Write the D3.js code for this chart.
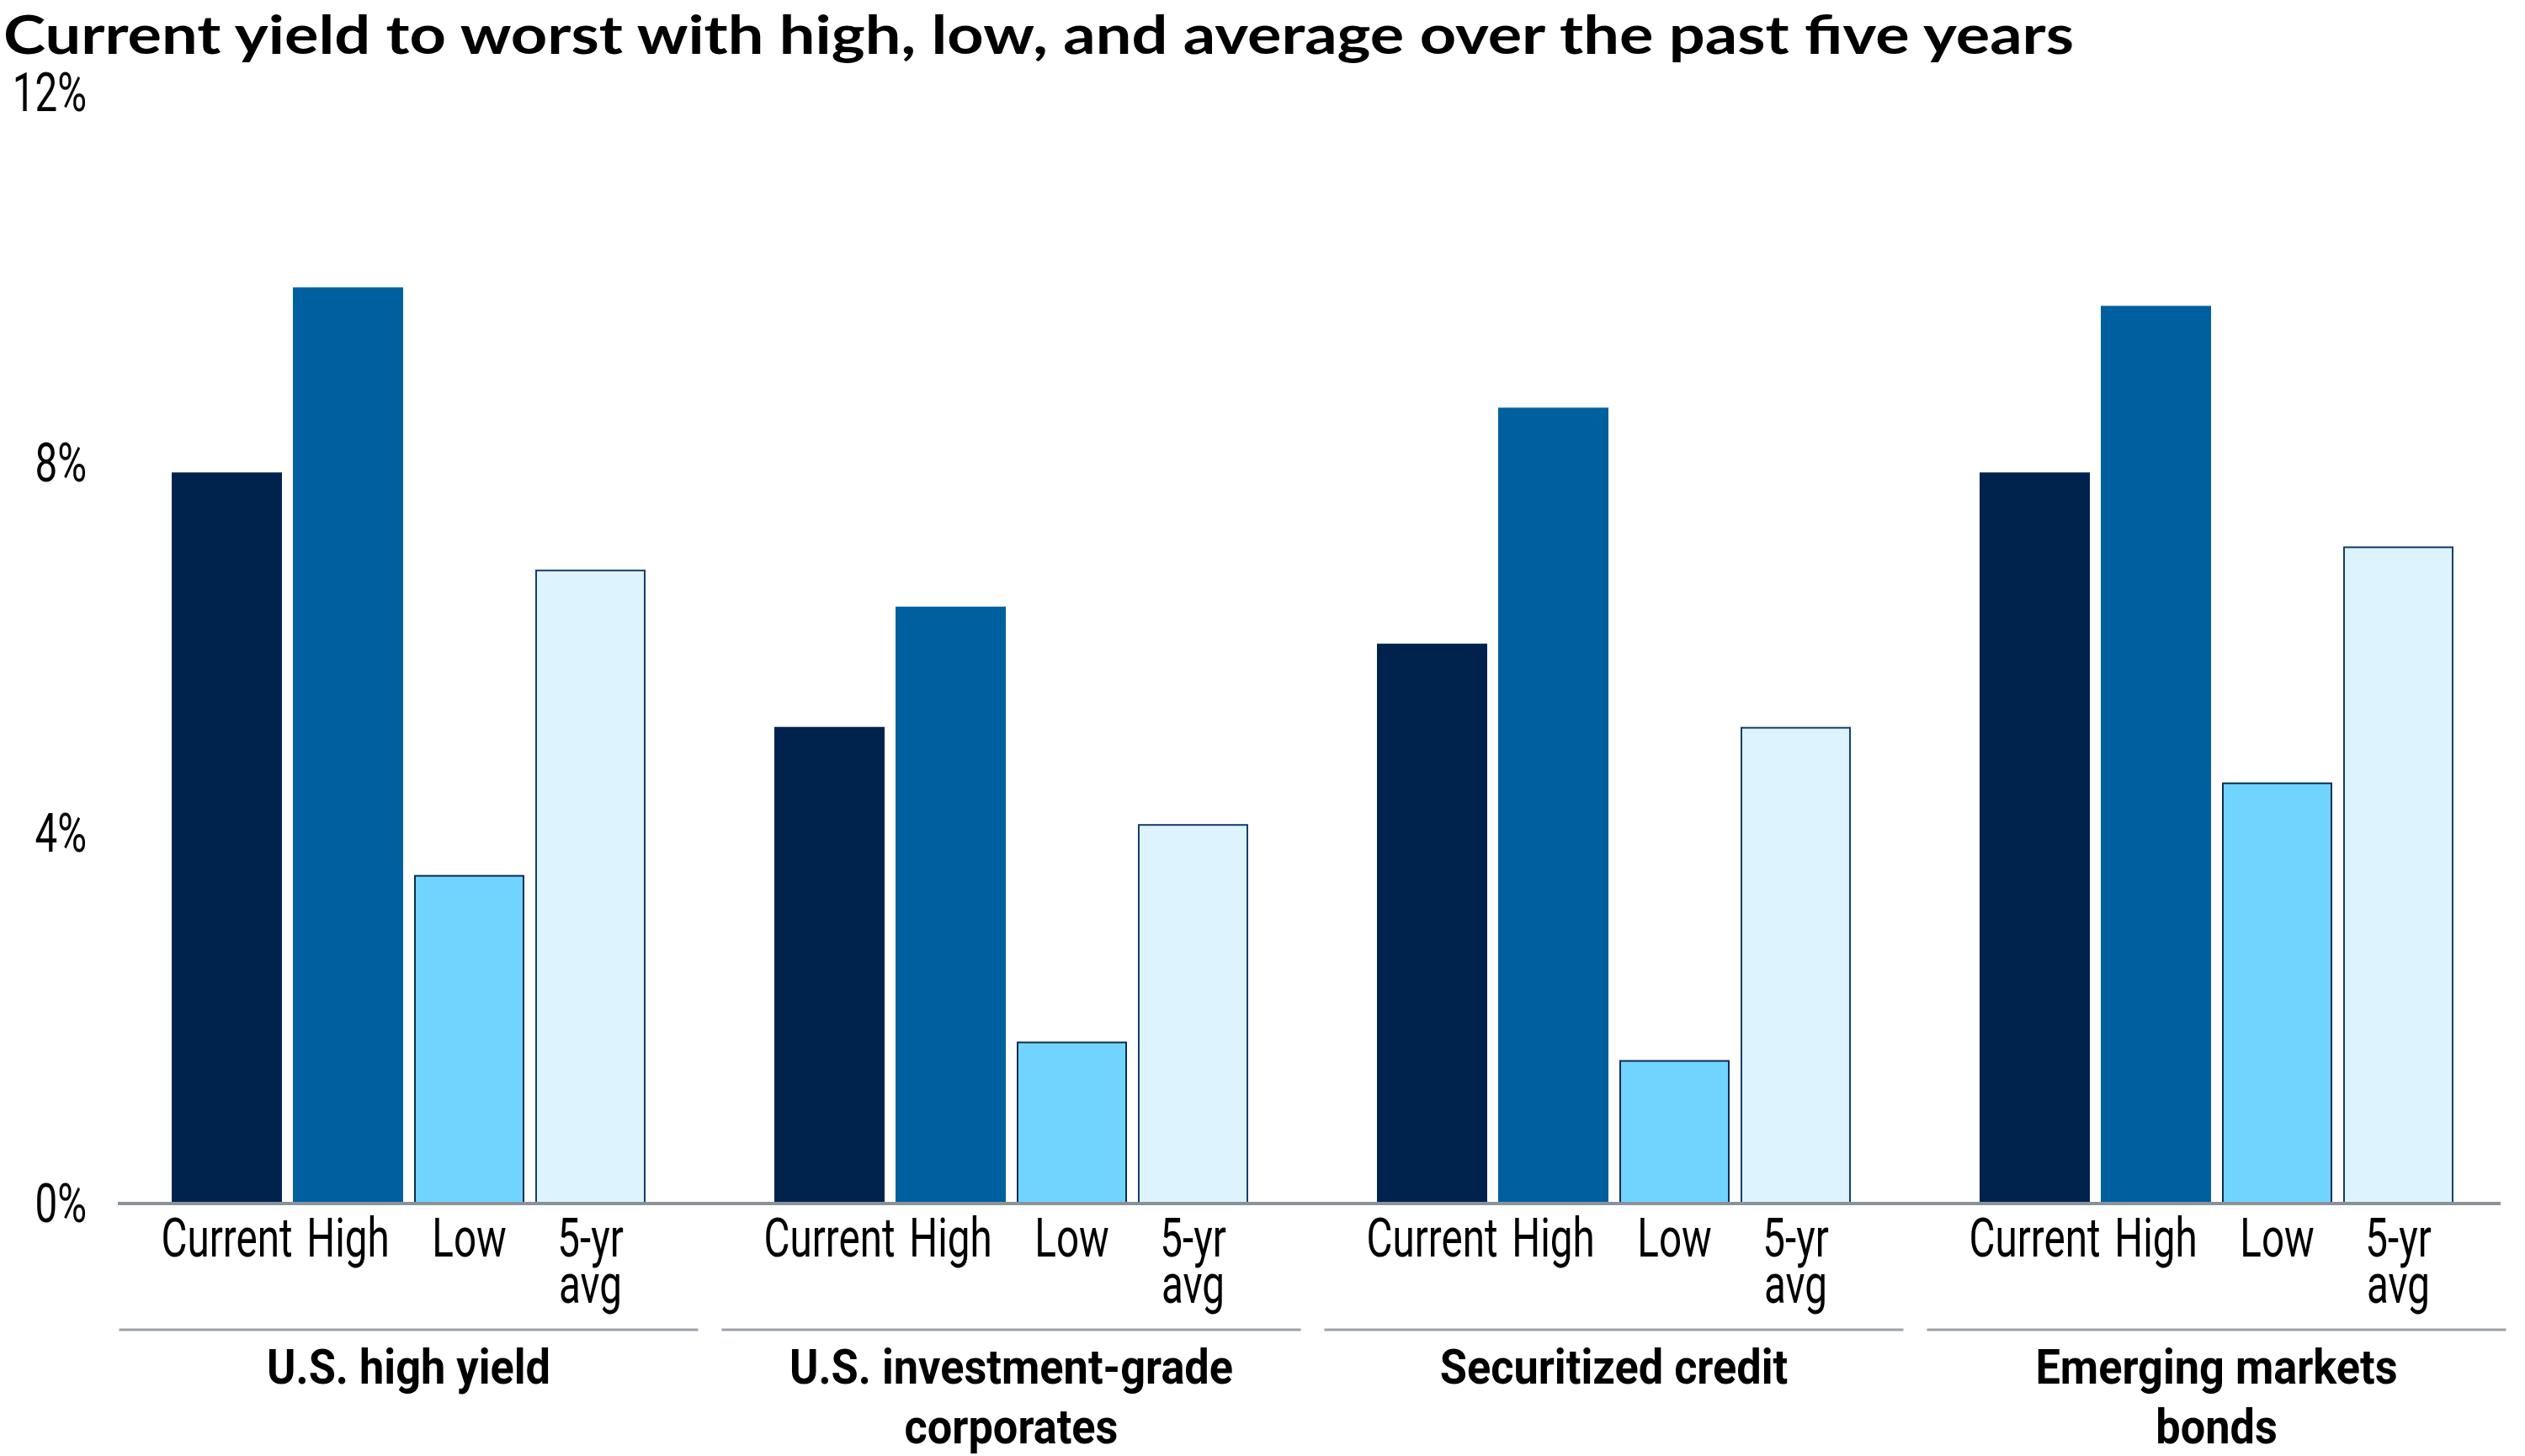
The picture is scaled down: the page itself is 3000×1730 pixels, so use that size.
<!DOCTYPE html>
<html>
<head>
<meta charset="utf-8">
<script src="https://cdn.jsdelivr.net/npm/d3@7"></script>
<style>
  html, body { margin: 0; padding: 0; background: #ffffff; }
  svg { display: block; }
</style>
</head>
<body>
<svg id="chart" width="3000" height="1730"></svg>
<script>
// ---- data ----
const title = "Current yield to worst with high, low, and average over the past five years";
const categories = ["U.S. high yield", "U.S. investment-grade corporates", "Securitized credit", "Emerging markets bonds"];
const seriesNames = ["Current", "High", "Low", "5-yr avg"];
const currentValues = [7.9, 5.15, 6.05, 7.9];
const highValues = [9.9, 6.45, 8.6, 9.7];
const lowValues = [3.55, 1.75, 1.55, 4.55];
const avgValues = [6.85, 4.1, 5.15, 7.1];
const yTicks = [0, 4, 8, 12];
const yTickLabels = ["0%", "4%", "8%", "12%"];

const seriesValues = [currentValues, highValues, lowValues, avgValues];
const colors = ["#00234d", "#005f9f", "#70d4fe", "#ddf3fd"];
const strokes = ["none", "none", "#0b2d57", "#143f6b"];

const svg = d3.select("#chart");
const FONT = "Roboto, 'Open Sans', 'Noto Sans', sans-serif";
const REG_SIZE = 64, BOLD_SIZE = 58;

// measure helper to get condensing factors
function measure(str, size, weight) {
  const tt = svg.append("text").style("font-family", FONT).style("font-size", size + "px")
    .style("font-weight", weight).text(str);
  const w = tt.node().getComputedTextLength();
  tt.remove();
  return w;
}
const sxReg = 156 / measure("Current", REG_SIZE, 400);
const sxBold = 337 / measure("U.S. high yield", BOLD_SIZE, 700);

// scales
const y = d3.scaleLinear().domain([0, 12]).range([1430, 110.5]);
const x0 = d3.scaleBand().domain(categories).range([144, 2975]).paddingInner(0.2137).paddingOuter(0.0838);
const x1 = d3.scaleBand().domain(seriesNames).range([0, x0.bandwidth()]).paddingInner(0.0903);

// title
svg.append("text")
  .attr("x", 4).attr("y", 64)
  .style("font-family", "Lato, 'Open Sans', sans-serif")
  .style("font-weight", 700)
  .style("font-size", "64px")
  .attr("fill", "#000")
  .attr("textLength", 2460).attr("lengthAdjust", "spacingAndGlyphs")
  .text(title);

// condensed text helper
function condensed(parent, lines, x, y0, lineH, size, weight, sx, anchor, baseline) {
  const gg = parent.append("g").attr("transform", `translate(${x},0) scale(${sx},1)`);
  const txt = gg.append("text")
    .attr("text-anchor", anchor)
    .style("font-family", FONT)
    .style("font-size", size + "px")
    .style("font-weight", weight)
    .attr("fill", "#000");
  if (baseline) txt.attr("dominant-baseline", baseline);
  lines.forEach((ln, i) => {
    txt.append("tspan").attr("x", 0).attr("y", y0 + i * lineH).text(ln);
  });
  return txt;
}

function wrapWords(str, size, weight, sx, maxW) {
  const words = str.split(" ");
  const lines = [];
  let cur = [];
  words.forEach(w => {
    const test = cur.concat([w]).join(" ");
    if (cur.length && measure(test, size, weight) * sx > maxW) {
      lines.push(cur.join(" "));
      cur = [w];
    } else cur.push(w);
  });
  if (cur.length) lines.push(cur.join(" "));
  return lines;
}

// y axis labels (from axis generator for tick positions)
const yAxis = d3.axisLeft(y).tickValues(yTicks).tickFormat((d, i) => yTickLabels[i]).tickSize(0);
const ya = svg.append("g").call(yAxis);
ya.selectAll(".tick").each(function (d, i) {
  d3.select(this).select("text").remove();
  condensed(d3.select(this).attr("transform", `translate(0,${y(d)})`), [yTickLabels[i]], 103, 0, 0,
    REG_SIZE, 400, sxReg, "end", "central");
});
ya.select(".domain").remove();
ya.selectAll("line").remove();

// bars
const rows = categories.map((c, ci) => ({ cat: c, vals: seriesNames.map((s, si) => ({ s, si, v: seriesValues[si][ci] })) }));
const g = svg.append("g").selectAll("g").data(rows).join("g")
  .attr("transform", d => `translate(${x0(d.cat)},0)`);

g.selectAll("rect").data(d => d.vals).join("rect")
  .attr("x", d => x1(d.s) + (strokes[d.si] === "none" ? 0 : 1))
  .attr("width", d => x1.bandwidth() - (strokes[d.si] === "none" ? 0 : 2))
  .attr("y", d => y(d.v) + (strokes[d.si] === "none" ? 0 : 1))
  .attr("height", d => y(0) - y(d.v))
  .attr("fill", d => colors[d.si])
  .attr("stroke", d => strokes[d.si])
  .attr("stroke-width", d => strokes[d.si] === "none" ? 0 : 2);

// baseline axis
svg.append("line")
  .attr("x1", 140).attr("x2", 2971)
  .attr("y1", y(0)).attr("y2", y(0))
  .attr("stroke", "#8a9299").attr("stroke-width", 4);

// series labels under bars
g.each(function (d) {
  const gg = d3.select(this);
  d.vals.forEach(v => {
    const lines = wrapWords(v.s, REG_SIZE, 400, sxReg, x1.step());
    condensed(gg, lines, x1(v.s) + x1.bandwidth() / 2, 1493, 55, REG_SIZE, 400, sxReg, "middle");
  });
});

// group separator lines
g.append("line")
  .attr("x1", x0.bandwidth() / 2 - x0.step() / 2 + 14)
  .attr("x2", x0.bandwidth() / 2 + x0.step() / 2 - 14)
  .attr("y1", 1580).attr("y2", 1580)
  .attr("stroke", "#9aa1a7").attr("stroke-width", 3);

// category labels
g.each(function (d) {
  const gg = d3.select(this);
  const lines = wrapWords(d.cat, BOLD_SIZE, 700, sxBold, x0.bandwidth());
  condensed(gg, lines, x0.bandwidth() / 2, 1644, 71, BOLD_SIZE, 700, sxBold, "middle");
});
</script>
</body>
</html>
